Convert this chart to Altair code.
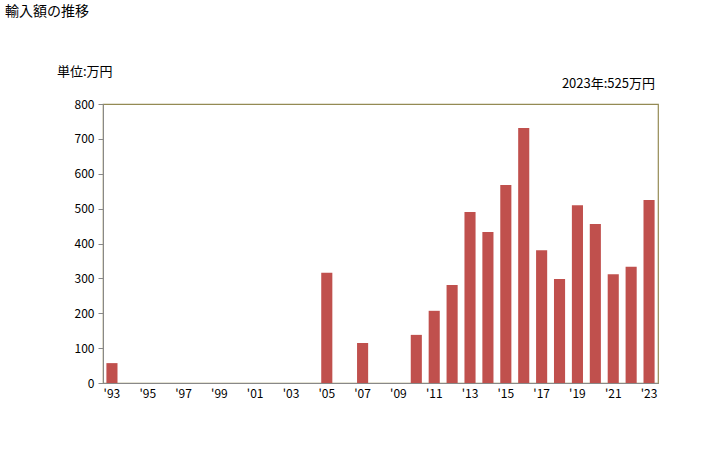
import altair as alt
import pandas as pd

years = list(range(1993, 2024))
values = [57, 0, 0, 0, 0, 0, 0, 0, 0, 0, 0, 0, 316, 0, 115, 0, 0,
          138, 207, 281, 490, 433, 568, 731, 381, 298, 510, 456, 312, 333, 525]

df = pd.DataFrame({"year": [str(y) for y in years], "value": values})

FONT = "Noto Sans CJK JP"

bars = alt.Chart(df).mark_bar(color="#C0504D").encode(
    x=alt.X("year:O", title=None, sort=None,
            scale=alt.Scale(paddingInner=0.38, paddingOuter=0.19),
            axis=alt.Axis(labelAngle=0, ticks=False, domainColor="#888888",
                          labelFont=FONT, labelFontSize=12, labelColor="#000000",
                          labelFontWeight="normal", labelPadding=5,
                          labelExpr="(toNumber(datum.value) % 2 == 1) ? \"'\" + substring(datum.value, 2, 4) : ''")),
    y=alt.Y("value:Q", title=None,
            scale=alt.Scale(domain=[0, 800]),
            axis=alt.Axis(values=[0, 100, 200, 300, 400, 500, 600, 700, 800],
                          grid=False, domainColor="#888888", tickColor="#888888",
                          tickSize=5, labelFont=FONT, labelFontSize=12,
                          labelFontWeight="normal",
                          labelColor="#000000", labelPadding=4)),
)

def label(text, x, y, align, size):
    return alt.Chart(pd.DataFrame({"t": [text]})).mark_text(
        align=align, baseline="middle", font=FONT, fontSize=size,
        fontWeight="normal", color="#000000").encode(
        x=alt.value(x), y=alt.value(y), text="t:N")

title_txt = label("輸入額の推移", -98, -92, "left", 14)
unit_txt = label("単位:万円", -46, -32, "left", 13)
latest_txt = label("2023年:525万円", 552, -20, "right", 13)

chart = alt.layer(bars, title_txt, unit_txt, latest_txt).properties(
    width=555, height=279,
    background="#ffffff",
    autosize=alt.AutoSizeParams(type="none"),
    padding={"left": 103, "top": 104, "right": 70, "bottom": 67},
).configure_view(stroke="#948A54", strokeWidth=1.2)

chart.save("out.html", embed_options={"renderer": "svg", "actions": False})
